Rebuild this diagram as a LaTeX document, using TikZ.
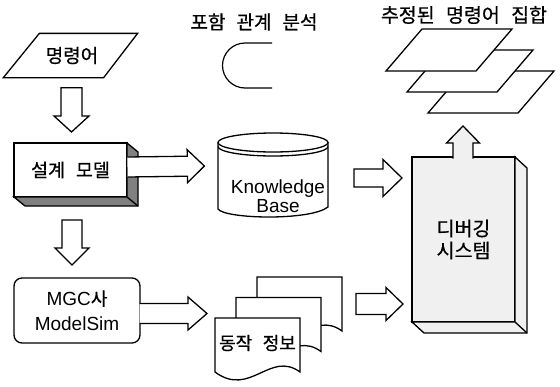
\documentclass[tikz,border=0pt]{standalone}
\usepackage{fontspec}
\setmainfont{Liberation Sans}
\newfontfamily\kr[WordSpace=2.6,FakeBold=0.6]{Noto Sans CJK KR}
\usetikzlibrary{calc}
\definecolor{stip}{gray}{0.94}
\definecolor{shadeg}{gray}{0.5}
\newcommand{\blockarrow}[7]{%
  \coordinate (bac) at ($(#3)!#6!(#2)$);
  \draw[#1] ($(#2)!#4!90:(#3)$) -- ($(bac)!#4!-90:(#2)$) -- ($(bac)!#5!-90:(#2)$) -- (#3)
    -- ($(bac)!#5!90:(#2)$) -- ($(bac)!#4!90:(#2)$) -- ($(#2)!#4!-90:(#3)$) #7;
}
\tikzset{
  ktxt/.style={font=\kr\fontsize{19pt}{22pt}\selectfont, inner sep=0pt},
  ltxt/.style={font=\fontsize{19pt}{19pt}\selectfont, align=center, inner sep=0pt},
  box/.style={draw, line width=1.3pt, inner sep=0pt, outer sep=0pt},
  blk/.style={draw, fill=white, line width=1.3pt, line join=miter},
  docshape/.pic={\draw[blk] (0,0) -- (85,0) -- (85,54) .. controls (55,32) and (35,80) .. (0,54) -- cycle;},
  paragram/.pic={\draw[blk] (0,0) -- (90,0) -- (126,-42) -- (36,-42) -- cycle;}
}
\begin{document}
\begin{tikzpicture}[x=1pt,y=-1pt,line width=1.3pt]
\useasboundingbox (0,0) rectangle (560,386);

% titles
\node[ktxt, font=\kr\fontsize{19pt}{22pt}\selectfont] (t1) at (254,22) {포함 관계 분석};
\node[ktxt, font=\kr\fontsize{19.5pt}{22pt}\selectfont] (t2) at (464,15) {추정된 명령어 집합};

% subset symbol
\draw[line width=1.2pt] (272,43) -- (245,43) .. controls (232.6,43) and (222.5,53.1) .. (222.5,65.5)
  .. controls (222.5,77.9) and (232.6,88) .. (245,88) -- (272,88);

% estimated instruction set
\pic at (428,113) {paragram};
\pic at (407,92) {paragram};
\pic at (386,71) {paragram};

% command parallelogram
\node[ktxt, minimum width=98pt, minimum height=43pt] (cmd) at (72,55.5) {명령어};
\draw[line width=1.3pt] ($(cmd.north west)+(17,0)$) -- ($(cmd.north east)+(16,0)$)
  -- ($(cmd.south east)+(-18,0)$) -- ($(cmd.south west)+(-19,0)$) -- cycle;

% design model 3D box
\node[box, ktxt, font=\kr\fontsize{18.5pt}{22pt}\selectfont, minimum width=113pt, minimum height=54pt] (dm) at (70.5,170) {설계 모델};
\draw[line width=1.3pt, fill=shadeg] (dm.north east) -- ++(11,9) -- ++(0,54) -- ++(-113,0)
  -- (dm.south west) -- (dm.south east) -- cycle;
\draw[line width=1.3pt] (dm.south east) -- ++(11,9);

% Knowledge Base cylinder
\node[inner sep=0pt, minimum width=110pt, minimum height=85pt] (kb) at (273,175.5) {};
\draw[blk] (218,142.5) -- (218,209) .. controls (225,219) and (310,221) .. (328,207) -- (328,142.5);
\draw[blk] (273,142.5) ellipse [x radius=55, y radius=9.5];
\draw[line width=1.3pt] (218,146.5) arc[start angle=180, end angle=0, x radius=55, y radius=9.5];
\node[ltxt] (kbt) at (278,196) {Knowledge\\Base};

% MGC ModelSim
\node[box, rounded corners=8pt, minimum width=126pt, minimum height=65pt, align=center,
  font=\fontsize{19pt}{25pt}\selectfont] (mgc) at (77,310.5)
  {MGC{\kr\fontsize{18pt}{19pt}\selectfont 사}\\ModelSim};

% operation info documents
\pic at (257,277) {docshape};
\pic at (236,297.5) {docshape};
\pic at (215,318) {docshape};
\node[ktxt, font=\kr\fontsize{18pt}{22pt}\selectfont] (dinfo) at (257.5,343) {동작 정보};

% debugging system
\node[box, fill=stip, minimum width=103pt, minimum height=165pt, align=center,
  font=\kr\fontsize{19.5pt}{22pt}\selectfont] (dbg) at (463.5,239.5) {디버깅\\시스템};
\draw[line width=1.3pt, fill=stip] (dbg.north east) -- ++(12,11) -- ++(0,165) -- ++(-103,0)
  -- (dbg.south west) -- (dbg.south east) -- cycle;
\draw[line width=1.3pt] (dbg.south east) -- ++(12,11);

% block arrows
\coordinate (a1s) at ($(cmd.south)+(-0.5,10)$);
\coordinate (a1e) at ($(dm.north)+(1,-11)$);
\blockarrow{blk}{a1s}{a1e}{10.5pt}{17.5pt}{16pt}{-- cycle}

\coordinate (a2s) at ($(dm.south)+(1.5,23)$);
\coordinate (a2e) at ($(mgc.north)+(-5,-13)$);
\blockarrow{blk}{a2s}{a2e}{10pt}{17pt}{17pt}{-- cycle}

\coordinate (a3s) at ($(dm.east)+(0.5,-3)$);
\coordinate (a3e) at ($(kb.west)+(-13,-9.5)$);
\blockarrow{blk}{a3s}{a3e}{10pt}{16.5pt}{17pt}{}

\coordinate (a4e) at ($(dbg.north west)+(-10,21)$);
\coordinate (a4s) at ($(a4e)+(-48,0)$);
\blockarrow{blk}{a4s}{a4e}{9pt}{18.5pt}{19pt}{-- cycle}

\coordinate (a5s) at ($(mgc.east)+(-0.5,3)$);
\coordinate (a5e) at ($(a5s)+(67.5,0)$);
\blockarrow{blk}{a5s}{a5e}{10pt}{16.5pt}{19pt}{}

\coordinate (a6e) at ($(dbg.north west)+(-9,147)$);
\coordinate (a6s) at ($(a6e)+(-47,0)$);
\blockarrow{blk}{a6s}{a6e}{10.5pt}{16.5pt}{17pt}{-- cycle}

\coordinate (a7s) at ($(dbg.north)+(-0.5,1.5)$);
\coordinate (a7e) at ($(dbg.north)+(-0.5,-31)$);
\blockarrow{blk, fill=stip}{a7s}{a7e}{10pt}{16.5pt}{17pt}{}
\end{tikzpicture}
\end{document}
